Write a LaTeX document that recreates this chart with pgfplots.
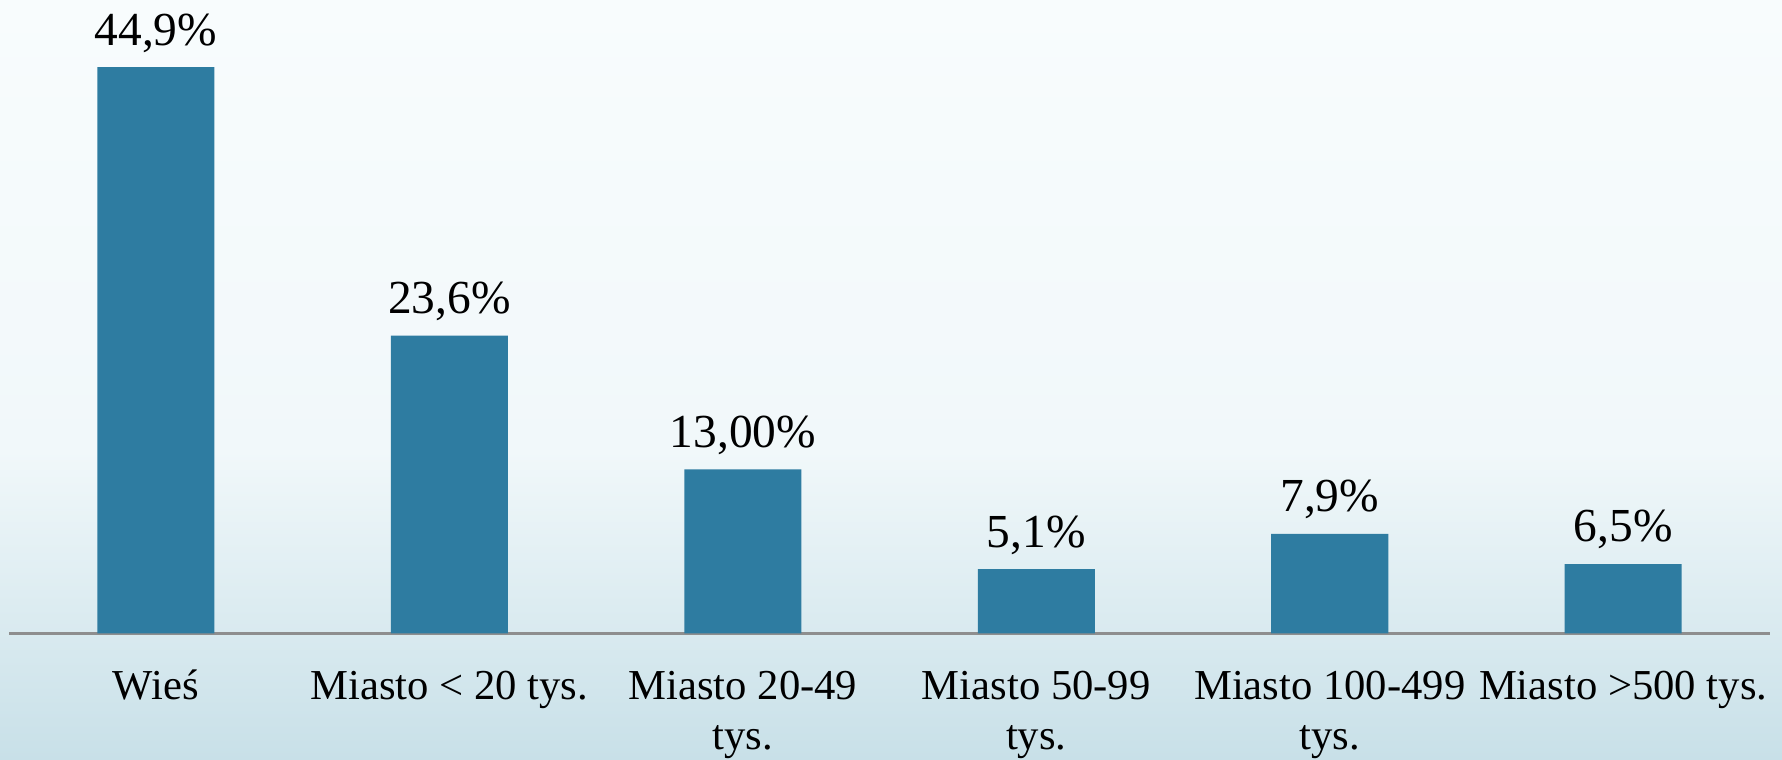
\documentclass[border=0pt]{standalone}
\usepackage{fontspec}
\setmainfont{Liberation Serif}
\usepackage{pgfplots}
\pgfplotsset{compat=1.18}

\definecolor{barblue}{HTML}{2E7CA1}
\definecolor{bgtop}{HTML}{F8FCFD}
\definecolor{bgmid}{HTML}{F1F8FA}
\definecolor{bgbot}{HTML}{C8E0E8}
\definecolor{axisgray}{HTML}{8E8E8E}

\begin{document}
\begin{tikzpicture}
% background (picture is 752pt x 320.3pt)
\fill[bgtop] (0,130pt) rectangle (752pt,320.3pt);
\shade[top color=bgtop, bottom color=bgmid] (0,130pt) rectangle (752pt,320.3pt);
\shade[top color=bgmid, bottom color=bgbot] (0,0) rectangle (752pt,130.2pt);

\begin{axis}[
    at={(3.9pt,53pt)}, anchor=south west,
    width=743pt, height=267.3pt, scale only axis,
    ybar, bar width=49.4pt,
    xmin=-0.5, xmax=5.5,
    ymin=0, ymax=50.22,
    enlargelimits=false,
    hide y axis,
    axis x line=bottom,
    x axis line style={-, draw=axisgray, line width=1pt},
    major tick length=0pt,
    xtick={0,1,2,3,4,5},
    xticklabels={
        {\begin{tabular}[t]{@{}c@{}}Wieś\end{tabular}},
        {\begin{tabular}[t]{@{}c@{}}Miasto < 20 tys.\end{tabular}},
        {\begin{tabular}[t]{@{}c@{}}Miasto 20-49\\tys.\end{tabular}},
        {\begin{tabular}[t]{@{}c@{}}Miasto 50-99\\tys.\end{tabular}},
        {\begin{tabular}[t]{@{}c@{}}Miasto 100-499\\tys.\end{tabular}},
        {\begin{tabular}[t]{@{}c@{}}Miasto >500 tys.\end{tabular}}
    },
    xticklabel style={font=\fontsize{18}{21.1}\selectfont, anchor=base, yshift=-28.1pt, inner sep=0pt},
    point meta=explicit symbolic,
    nodes near coords,
    nodes near coords style={font=\fontsize{20}{24}\selectfont, anchor=base, yshift=9.3pt, inner sep=0pt},
    clip=false,
]
\addplot[fill=barblue, draw=none] coordinates {
    (0,44.9) [44,9\%]
    (1,23.6) [23,6\%]
    (2,13.0) [13,00\%]
    (3,5.1)  [5,1\%]
    (4,7.9)  [7,9\%]
    (5,5.5)  [6,5\%]
};
\end{axis}
\pgfresetboundingbox
\path (0,0) rectangle (752pt,320.3pt);
\end{tikzpicture}
\end{document}
